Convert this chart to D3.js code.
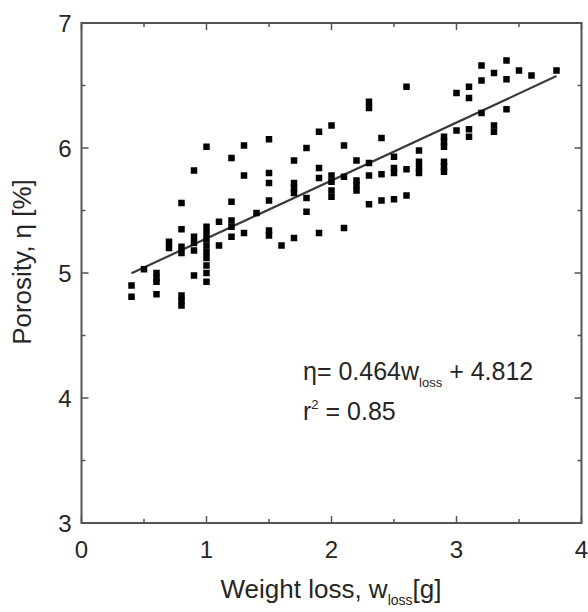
<!DOCTYPE html>
<html><head><meta charset="utf-8">
<script src="https://cdn.jsdelivr.net/npm/d3@7"></script>
<style>body{margin:0;background:#fff}svg{display:block}</style>
</head><body>
<svg id="c" width="588" height="612"></svg>
<script>
// Data: weight loss (g) and porosity (%)
const weightLoss = [
  0.4,0.4, 0.5, 0.6,0.6,0.6,0.6, 0.7,0.7,
  0.8,0.8,0.8,0.8,0.8,0.8,0.8,
  0.9,0.9,0.9,0.9,0.9,
  1.0,1.0,1.0,1.0,1.0,1.0,1.0,1.0,1.0,1.0,
  1.1,1.1, 1.2,1.2,1.2,1.2,1.2, 1.3,1.3,1.3, 1.4,
  1.5,1.5,1.5,1.5,1.5,1.5, 1.6, 1.7,1.7,1.7,1.7,1.7,
  1.8,1.8,1.8, 1.9,1.9,1.9,1.9, 2.0,2.0,2.0,2.0,2.0,
  2.1,2.1,2.1, 2.2,2.2,2.2,2.2, 2.3,2.3,2.3,2.3,2.3,
  2.4,2.4,2.4, 2.5,2.5,2.5,2.5, 2.6,2.6,2.6, 2.7,2.7,2.7,2.7,
  2.9,2.9,2.9,2.9,2.9,2.9, 3.0,3.0, 3.1,3.1,3.1,3.1,
  3.2,3.2,3.2, 3.3,3.3,3.3, 3.4,3.4,3.4, 3.5, 3.6, 3.8
];
const porosity = [
  4.90,4.81, 5.03, 5.00,4.96,4.93,4.83, 5.25,5.20,
  5.56,5.35,5.21,5.16,4.82,4.78,4.74,
  5.82,5.29,5.24,5.18,4.98,
  6.01,5.37,5.32,5.27,5.22,5.17,5.12,5.06,5.00,4.93,
  5.41,5.22, 5.92,5.57,5.42,5.37,5.29, 6.02,5.78,5.32, 5.48,
  6.07,5.80,5.72,5.58,5.34,5.30, 5.22, 5.90,5.72,5.68,5.64,5.28,
  6.00,5.60,5.49, 6.13,5.84,5.76,5.32, 6.18,5.78,5.73,5.66,5.61,
  6.02,5.77,5.36, 5.90,5.74,5.70,5.66, 6.37,6.32,5.88,5.78,5.55,
  6.08,5.79,5.58, 5.93,5.84,5.80,5.59, 6.49,5.83,5.62, 5.98,5.89,5.84,5.80,
  6.09,6.05,6.01,5.89,5.85,5.81, 6.44,6.14, 6.49,6.40,6.15,6.09,
  6.66,6.54,6.28, 6.60,6.18,6.13, 6.70,6.55,6.31, 6.62, 6.58, 6.62
];
const fitSlope = 0.464, fitIntercept = 4.812;
const fitRange = [0.4, 3.8];
const xTicks = [0,1,2,3,4];
const yTicks = [3,4,5,6,7];
const xMinor = [0.5,1.5,2.5,3.5];
const yMinor = [3.5,4.5,5.5,6.5];

const svg = d3.select("#c");
const L = 81.5, R = 581.5, T = 23, B = 523;
const x = d3.scaleLinear().domain([0,4]).range([L,R]);
const y = d3.scaleLinear().domain([3,7]).range([B,T]);
const font = "'Liberation Sans', Arial, sans-serif";
const txt = "#262626";

// frame
svg.append("rect").attr("x",L).attr("y",T).attr("width",R-L).attr("height",B-T)
  .attr("fill","none").attr("stroke","#555").attr("stroke-width",2);

// ticks (inward) on all four sides
const tk = svg.append("g").attr("stroke","#555").attr("stroke-width",1.5);
function xt(v,len){
  tk.append("line").attr("x1",x(v)).attr("x2",x(v)).attr("y1",B).attr("y2",B-len);
  tk.append("line").attr("x1",x(v)).attr("x2",x(v)).attr("y1",T).attr("y2",T+len);
}
function yt(v,len){
  tk.append("line").attr("y1",y(v)).attr("y2",y(v)).attr("x1",L).attr("x2",L+len);
  tk.append("line").attr("y1",y(v)).attr("y2",y(v)).attr("x1",R).attr("x2",R-len);
}
xTicks.forEach(v=>xt(v,7)); xMinor.forEach(v=>xt(v,4));
yTicks.forEach(v=>yt(v,7)); yMinor.forEach(v=>yt(v,4));

// tick labels
svg.append("g").selectAll("text").data(xTicks).join("text")
  .attr("x",d=>x(d)).attr("y",B+35).attr("text-anchor","middle")
  .attr("font-family",font).attr("font-size",24).attr("fill",txt).text(d=>d);
svg.append("g").selectAll("text").data(yTicks).join("text")
  .attr("x",L-10).attr("y",d=>y(d)+9).attr("text-anchor","end")
  .attr("font-family",font).attr("font-size",24).attr("fill",txt).text(d=>d);

// axis titles
const xl = svg.append("text").attr("x",331).attr("y",598).attr("text-anchor","middle")
  .attr("font-family",font).attr("font-size",26).attr("fill",txt);
xl.append("tspan").text("Weight loss, w");
xl.append("tspan").attr("font-size",14).attr("dy",7).text("loss");
xl.append("tspan").attr("dy",-7).text("[g]");

svg.append("text").attr("transform","translate(31,262) rotate(-90)")
  .attr("text-anchor","middle").attr("font-family",font).attr("font-size",26)
  .attr("fill",txt).text("Porosity, \u03b7 [%]");

// fit line
svg.append("line")
  .attr("x1",x(fitRange[0])).attr("y1",y(fitSlope*fitRange[0]+fitIntercept))
  .attr("x2",x(fitRange[1])).attr("y2",y(fitSlope*fitRange[1]+fitIntercept))
  .attr("stroke","#3a3a3a").attr("stroke-width",2.2);

// points
const pts = weightLoss.map((w,i)=>[w,porosity[i]]);
svg.append("g").selectAll("rect").data(pts).join("rect")
  .attr("x",d=>x(d[0])-3.25).attr("y",d=>y(d[1])-3.25).attr("width",6.5).attr("height",6.5)
  .attr("fill","#000");

// equation
const eq = svg.append("text").attr("x",303).attr("y",380)
  .attr("font-family",font).attr("font-size",25).attr("fill",txt);
eq.append("tspan").text("\u03b7= "+fitSlope.toFixed(3)+"w");
eq.append("tspan").attr("font-size",13).attr("dy",7).text("loss");
eq.append("tspan").attr("dy",-7).text(" + "+fitIntercept.toFixed(3));

const r2 = svg.append("text").attr("x",303).attr("y",420)
  .attr("font-family",font).attr("font-size",25).attr("fill",txt);
r2.append("tspan").text("r");
r2.append("tspan").attr("font-size",13).attr("dy",-11).text("2");
r2.append("tspan").attr("dy",11).text(" = 0.85");
</script>
</body></html>
